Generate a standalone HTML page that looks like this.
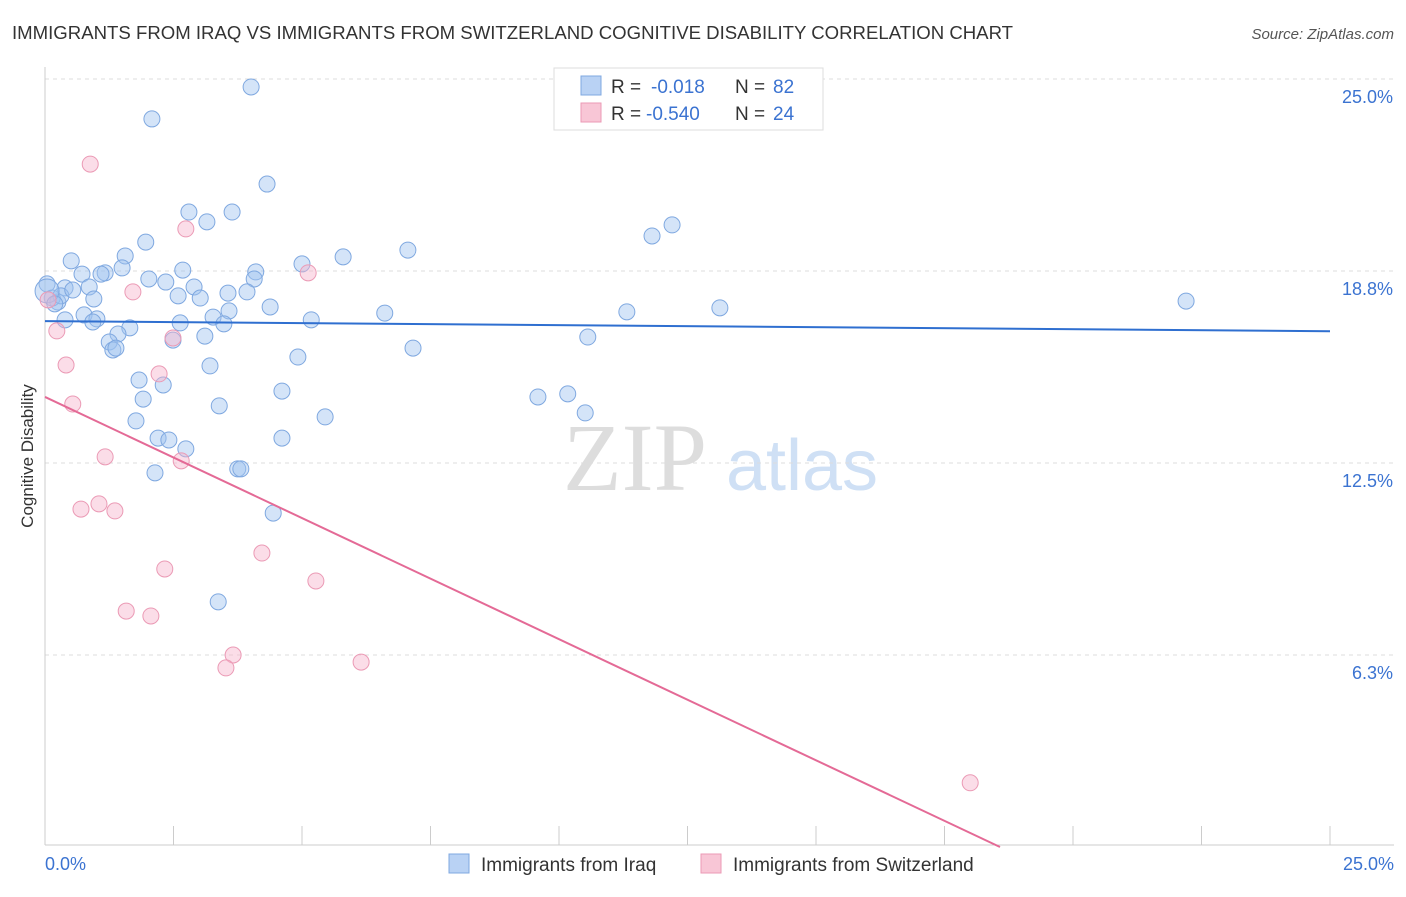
<!DOCTYPE html>
<html><head><meta charset="utf-8"><style>
body{margin:0;background:#fff;font-family:"Liberation Sans",sans-serif;}
</style></head><body>
<svg width="1406" height="892" xmlns="http://www.w3.org/2000/svg" id="chart">
<text x="12" y="39" font-size="18.6" fill="#333">IMMIGRANTS FROM IRAQ VS IMMIGRANTS FROM SWITZERLAND COGNITIVE DISABILITY CORRELATION CHART</text>
<text x="1394" y="39" font-size="15" fill="#555" font-style="italic" text-anchor="end">Source: ZipAtlas.com</text>
<text x="33" y="456" font-size="17" fill="#333" text-anchor="middle" transform="rotate(-90 33 456)">Cognitive Disability</text>
<g>
<text x="635" y="490" font-size="96" fill="#ddd" font-family="Liberation Serif" text-anchor="middle">ZIP</text>
<text x="802" y="490" font-size="72" fill="#cfe0f5" text-anchor="middle">atlas</text>
</g>
<g id="grid"></g><g id="axes"></g><g id="pts"></g><g id="lines"></g>
<g>
<rect x="554" y="68" width="269" height="62" fill="#fff" stroke="#ddd"/>
<rect x="581" y="76" width="20" height="19" fill="#b9d2f4" stroke="#7fa8e0"/>
<text x="611" y="93" font-size="19" fill="#333">R =</text>
<text x="651" y="93" font-size="19" fill="#3b73d1">-0.018</text>
<text x="735" y="93" font-size="19" fill="#333">N =</text>
<text x="773" y="93" font-size="19" fill="#3b73d1">82</text>
<rect x="581" y="103" width="20" height="19" fill="#f8c6d6" stroke="#eb9ab5"/>
<text x="611" y="120" font-size="19" fill="#333">R =</text>
<text x="646" y="120" font-size="19" fill="#3b73d1">-0.540</text>
<text x="735" y="120" font-size="19" fill="#333">N =</text>
<text x="773" y="120" font-size="19" fill="#3b73d1">24</text>
</g>
<g>
<rect x="449" y="854" width="20" height="19" fill="#b9d2f4" stroke="#7fa8e0"/>
<text x="481" y="871" font-size="19" fill="#333">Immigrants from Iraq</text>
<rect x="701" y="854" width="20" height="19" fill="#f8c6d6" stroke="#eb9ab5"/>
<text x="733" y="871" font-size="19" fill="#333">Immigrants from Switzerland</text>
</g>
</svg>
<script>
const yTicks=[25,18.75,12.5,6.25];
const yTickLabels=["25.0%","18.8%","12.5%","6.3%"];
const xTickLabels=["0.0%","25.0%"];
const iraqX=[4.01,2.08,4.32,2.80,3.64,3.15,12.20,11.81,1.96,7.06,5.80,1.56,0.51,5.00,2.68,4.10,1.17,0.72,1.09,1.50,2.02,4.07,2.35,2.90,0.04,0.39,0.86,3.93,3.56,2.59,3.02,0.95,0.25,22.20,4.38,3.58,11.32,13.13,6.61,3.27,0.76,1.01,0.39,0.93,5.18,2.63,3.48,1.65,1.42,3.11,2.49,10.56,1.25,1.32,1.38,7.16,4.92,3.21,1.83,2.30,4.61,1.91,9.59,10.17,3.39,10.51,5.45,1.77,2.20,2.41,4.61,2.74,2.14,3.75,3.81,4.44,3.37,0.14,0.31,0.54,0.04,0.19];
const iraqY=[24.74,23.70,21.58,20.67,20.67,20.35,20.25,19.89,19.69,19.43,19.21,19.24,19.08,18.98,18.78,18.72,18.69,18.65,18.65,18.85,18.49,18.49,18.39,18.23,18.33,18.20,18.23,18.07,18.03,17.94,17.87,17.84,17.74,17.77,17.58,17.45,17.42,17.55,17.38,17.25,17.32,17.19,17.16,17.09,17.16,17.06,17.03,16.90,16.70,16.63,16.50,16.60,16.44,16.18,16.24,16.24,15.95,15.66,15.20,15.04,14.84,14.58,14.65,14.75,14.36,14.13,14.00,13.87,13.31,13.25,13.31,12.96,12.18,12.31,12.31,10.87,7.98,17.87,17.94,18.13,18.10,17.68];
const swissX=[0.88,2.74,5.12,1.71,0.06,0.23,0.41,2.22,2.49,0.54,1.17,2.65,0.70,1.05,1.36,4.22,2.33,5.27,1.58,2.06,3.66,3.52,6.15,18.00];
const swissY=[22.23,20.12,18.69,18.07,17.81,16.80,15.69,15.40,16.57,14.42,12.70,12.57,11.00,11.17,10.94,9.57,9.05,8.66,7.68,7.52,6.25,5.83,6.02,2.09];
const iraqTrend=[17.12,16.79];
const swissTrend=[14.65,-0.7885];
const X0=45,X1=1330,Y25=79,Y0=847;
const sx=v=>X0+v/25*(X1-X0);
const sy=v=>Y0-v/25*(Y0-Y25);
const NS="http://www.w3.org/2000/svg";
function mk(t,a,p){const e=document.createElementNS(NS,t);for(const k in a)e.setAttribute(k,a[k]);document.getElementById(p).appendChild(e);return e;}
yTicks.forEach((v,i)=>{
 const g=mk('line',{x1:X0,x2:1394,y1:sy(v),y2:sy(v),stroke:'#ddd','stroke-dasharray':'4,4'},'grid');
 
 
 const t=mk('text',{x:1393,y:sy(v)+24,'font-size':18,fill:'#3b73d1','text-anchor':'end'},'grid');
 t.textContent=yTickLabels[i];
 
 
});
const ax=mk('line',{x1:X0,x2:X0,y1:67,y2:Y0-2,stroke:'#ccc'},'axes');


const bx=mk('line',{x1:X0,x2:1394,y1:Y0-2,y2:Y0-2,stroke:'#ccc'},'axes');


for(let i=0;i<=10;i++){const v=i*2.5;const tk=mk('line',{x1:sx(v),x2:sx(v),y1:826,y2:845,stroke:'#ccc'},'axes');
 
 }
[[0,'start',xTickLabels[0]],[25,'end',xTickLabels[1]]].forEach(([v,a,l])=>{
 const t=mk('text',{x:v==0?45:1394,y:870,'font-size':18,fill:'#3b73d1','text-anchor':a},'axes');t.textContent=l;
 
 });
iraqX.forEach((v,i)=>{const r=(i==80)?12:8;
 const c=mk('circle',{cx:sx(v),cy:sy(iraqY[i]),r:r,fill:'rgba(160,195,240,0.45)',stroke:'#7fa8e0','stroke-width':1},'pts');
 
 });
swissX.forEach((v,i)=>{
 const c=mk('circle',{cx:sx(v),cy:sy(swissY[i]),r:8,fill:'rgba(246,180,204,0.45)',stroke:'#eb9ab5','stroke-width':1},'pts');
 
 });
const l1=mk('line',{x1:sx(0),y1:sy(iraqTrend[0]),x2:sx(25),y2:sy(iraqTrend[1]),stroke:'#2f6fd0','stroke-width':2},'lines');


const xe=-swissTrend[0]/swissTrend[1];
const l2=mk('line',{x1:sx(0),y1:sy(swissTrend[0]),x2:sx(xe),y2:sy(0),stroke:'#e46a96','stroke-width':2},'lines');


</script>
</body></html>
